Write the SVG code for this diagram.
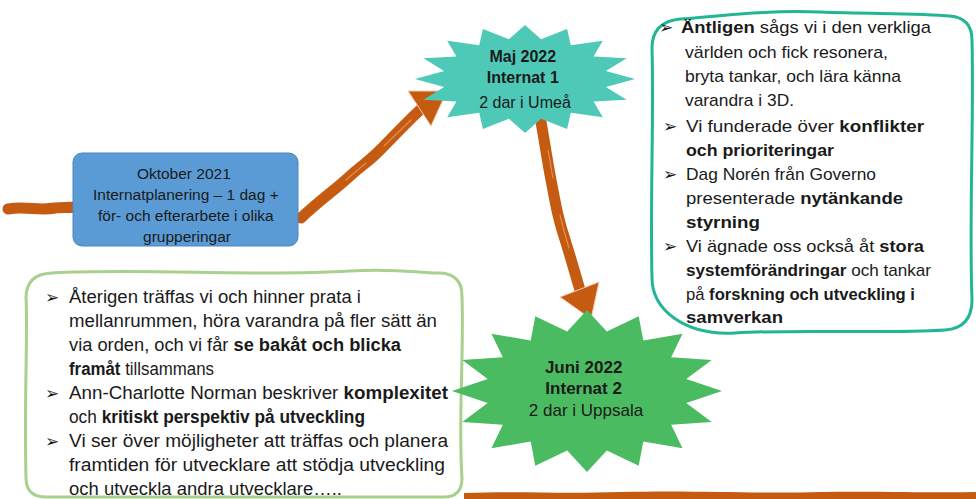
<svg xmlns="http://www.w3.org/2000/svg" width="976" height="499" viewBox="0 0 976 499">
<defs>
<style>
.t{font-family:"Liberation Sans",Arial,sans-serif;fill:#1a1a1a}
.b{font-weight:bold}
.bul{font-family:"DejaVu Sans",sans-serif;font-size:17px;fill:#1a1a1a}
.rb{font-size:17px}
.lb{font-size:17.5px}
.shaft{fill:none;stroke:#C55A11;stroke-width:11;stroke-linecap:round;stroke-linejoin:round}
.hl{fill:none;stroke:#F4B183;stroke-width:1.2;stroke-opacity:0.6;stroke-linecap:round}
.head{fill:#C55A11;stroke:#F8CBAD;stroke-width:1;stroke-linejoin:round}
.star{stroke:none}
</style>
</defs>
<rect width="976" height="499" fill="#ffffff"/>

<g id="connectors">
<path class="shaft" d="M 8,209 C 25,206 40,211 55,208 C 62,207 70,208 75,207" stroke-width="10"/>
<path class="shaft" d="M 301,218 C 320,200 335,190 350,176 C 362,165 368,162 378,152 C 392,138 405,124 421,109"/>
<path class="hl" d="M 346,180 C 354,173 360,168 366,163 M 384,146 C 393,137 402,129 411,120"/>
<polygon class="head" points="408,91 447,91 431,126"/>
<path class="shaft" d="M 541,122 C 546,150 548,165 551,180 C 555,200 556,210 562,230 C 570,255 574,270 580,290"/>
<path class="hl" d="M 548,150 C 550,160 551,168 553,178 M 560,215 C 563,228 566,238 569,248"/>
<polygon class="head" points="560,297 599,282 591,319"/>
<path d="M 464,499 L 464,493 C 520,491 560,494 620,492 C 700,490 760,494 820,492 C 880,491 930,493 976,492 L 976,499 Z" fill="#C55A11"/>
</g>

<g id="oktober">
<rect x="73" y="153" width="225" height="93" rx="9" fill="#5B9BD5" stroke="#4A86C0" stroke-width="1"/>
<text class="t" font-size="15.5" text-anchor="middle" fill="#1b2430">
<tspan x="186" y="179">Oktober 2021</tspan>
<tspan x="188" y="200">Internatplanering – 1 dag +</tspan>
<tspan x="188" y="221">för- och efterarbete i olika</tspan>
<tspan x="187" y="242">grupperingar</tspan>
</text>
</g>

<g id="maj">
<polygon class="star" fill="#4EC9B7" points="525,25 541.1,39.3 567.1,29.1 570.8,45.3 602.8,40.8 593.6,56.5 626.6,58.3 605.9,71.1 635,79 605.9,86.9 626.6,99.7 593.6,101.5 602.8,117.2 570.8,112.7 567.1,128.9 541.1,118.7 525,133 508.9,118.7 482.9,128.9 479.2,112.7 447.2,117.2 456.4,101.5 423.4,99.7 444.1,86.9 415,79 444.1,71.1 423.4,58.3 456.4,56.5 447.2,40.8 479.2,45.3 482.9,29.1 508.9,39.3"/>
<text class="t" font-size="16" text-anchor="middle">
<tspan class="b" x="525" y="62">Maj 2022</tspan>
<tspan class="b" x="525" y="83">Internat 1</tspan>
<tspan x="525" y="108">2 dar i Umeå</tspan>
</text>
</g>

<g id="internat2-notes">
<path d="M 52,273 C 150,268 250,277 350,271 C 400,268 425,274 440,273 Q 462,274 462,296 C 464,360 458,420 462,478 Q 462,497 444,497 L 46,497 Q 26,497 26,478 C 24,400 28,330 26,298 Q 26,274 52,273 Z" fill="none" stroke="#A9D18E" stroke-width="3"/>
<text class="bul" x="45" y="303">➢</text>
<text class="bul" x="45" y="399">➢</text>
<text class="bul" x="45" y="447">➢</text>
<text class="t lb" x="69" y="303" textLength="292" lengthAdjust="spacingAndGlyphs">Återigen träffas vi och hinner prata i</text>
<text class="t lb" x="69" y="327" textLength="368" lengthAdjust="spacingAndGlyphs">mellanrummen,  höra varandra på fler sätt än</text>
<text class="t lb" x="69" y="351" textLength="332" lengthAdjust="spacingAndGlyphs">via orden, och vi får <tspan class="b">se bakåt och blicka</tspan></text>
<text class="t lb" x="69" y="375" textLength="145" lengthAdjust="spacingAndGlyphs"><tspan class="b">framåt</tspan> tillsammans</text>
<text class="t lb" x="69" y="399" textLength="379" lengthAdjust="spacingAndGlyphs">Ann-Charlotte Norman beskriver <tspan class="b">komplexitet</tspan></text>
<text class="t lb" x="69" y="423" textLength="296" lengthAdjust="spacingAndGlyphs">och <tspan class="b">kritiskt perspektiv på utveckling</tspan></text>
<text class="t lb" x="69" y="447" textLength="379" lengthAdjust="spacingAndGlyphs">Vi ser över möjligheter att träffas och planera</text>
<text class="t lb" x="69" y="471" textLength="376" lengthAdjust="spacingAndGlyphs">framtiden för utvecklare att stödja utveckling</text>
<text class="t lb" x="69" y="495" textLength="273" lengthAdjust="spacingAndGlyphs">och utveckla andra utvecklare…..</text>
</g>

<g id="juni">
<polygon class="star" fill="#4BBB62" points="587,310 606.8,331.4 638.7,316.2 643.3,340.5 682.5,333.7 671.2,357.2 711.7,360 686.3,379.1 722,391 686.3,402.9 711.7,422 671.2,424.8 682.5,448.3 643.3,441.5 638.7,465.8 606.8,450.6 587,472 567.2,450.6 535.3,465.8 530.7,441.5 491.5,448.3 502.8,424.8 462.3,422 487.7,402.9 452,391 487.7,379.1 462.3,360 502.8,357.2 491.5,333.7 530.7,340.5 535.3,316.2 567.2,331.4"/>
<text class="t" font-size="17" text-anchor="middle">
<tspan class="b" x="586" y="373">Juni 2022</tspan>
<tspan class="b" x="586" y="394">Internat 2</tspan>
<tspan x="586" y="416">2 dar i Uppsala</tspan>
</text>
</g>

<g id="internat1-notes">
<path d="M 652,48 Q 652,22 680,19 C 730,15 770,10 820,12 C 870,14 920,13 950,16 Q 972,18 972,40 C 974,120 969,220 972,300 Q 972,328 945,330 C 880,334 800,329 735,333 Q 698,335 674,318 Q 652,302 652,278 C 650,200 654,120 652,48 Z" fill="#ffffff" stroke="#22B596" stroke-width="3"/>
<text class="bul" x="659" y="33">➢</text>
<text class="bul" x="663" y="132">➢</text>
<text class="bul" x="663" y="180">➢</text>
<text class="bul" x="663" y="252">➢</text>
<text class="t rb" x="681" y="33" textLength="250" lengthAdjust="spacingAndGlyphs"><tspan class="b">Äntligen</tspan> sågs vi i den verkliga</text>
<text class="t rb" x="685" y="58" textLength="203" lengthAdjust="spacingAndGlyphs">världen och fick resonera,</text>
<text class="t rb" x="685" y="82" textLength="216" lengthAdjust="spacingAndGlyphs">bryta tankar, och lära känna</text>
<text class="t rb" x="685" y="106" textLength="109" lengthAdjust="spacingAndGlyphs">varandra i 3D.</text>
<text class="t rb" x="686" y="132" textLength="238" lengthAdjust="spacingAndGlyphs">Vi funderade över <tspan class="b">konflikter</tspan></text>
<text class="t rb b" x="686" y="156" textLength="148" lengthAdjust="spacingAndGlyphs">och prioriteringar</text>
<text class="t rb" x="686" y="180" textLength="190" lengthAdjust="spacingAndGlyphs">Dag Norén från Governo</text>
<text class="t rb" x="686" y="204" textLength="217" lengthAdjust="spacingAndGlyphs">presenterade <tspan class="b">nytänkande</tspan></text>
<text class="t rb b" x="686" y="228" textLength="74" lengthAdjust="spacingAndGlyphs">styrning</text>
<text class="t rb" x="686" y="252" textLength="238" lengthAdjust="spacingAndGlyphs">Vi ägnade oss också åt <tspan class="b">stora</tspan></text>
<text class="t rb" x="686" y="276" textLength="245" lengthAdjust="spacingAndGlyphs"><tspan class="b">systemförändringar</tspan> och tankar</text>
<text class="t rb" x="686" y="300" textLength="229" lengthAdjust="spacingAndGlyphs">på <tspan class="b">forskning och utveckling i</tspan></text>
<text class="t rb b" x="686" y="323" textLength="97" lengthAdjust="spacingAndGlyphs">samverkan</text>
</g>
</svg>
